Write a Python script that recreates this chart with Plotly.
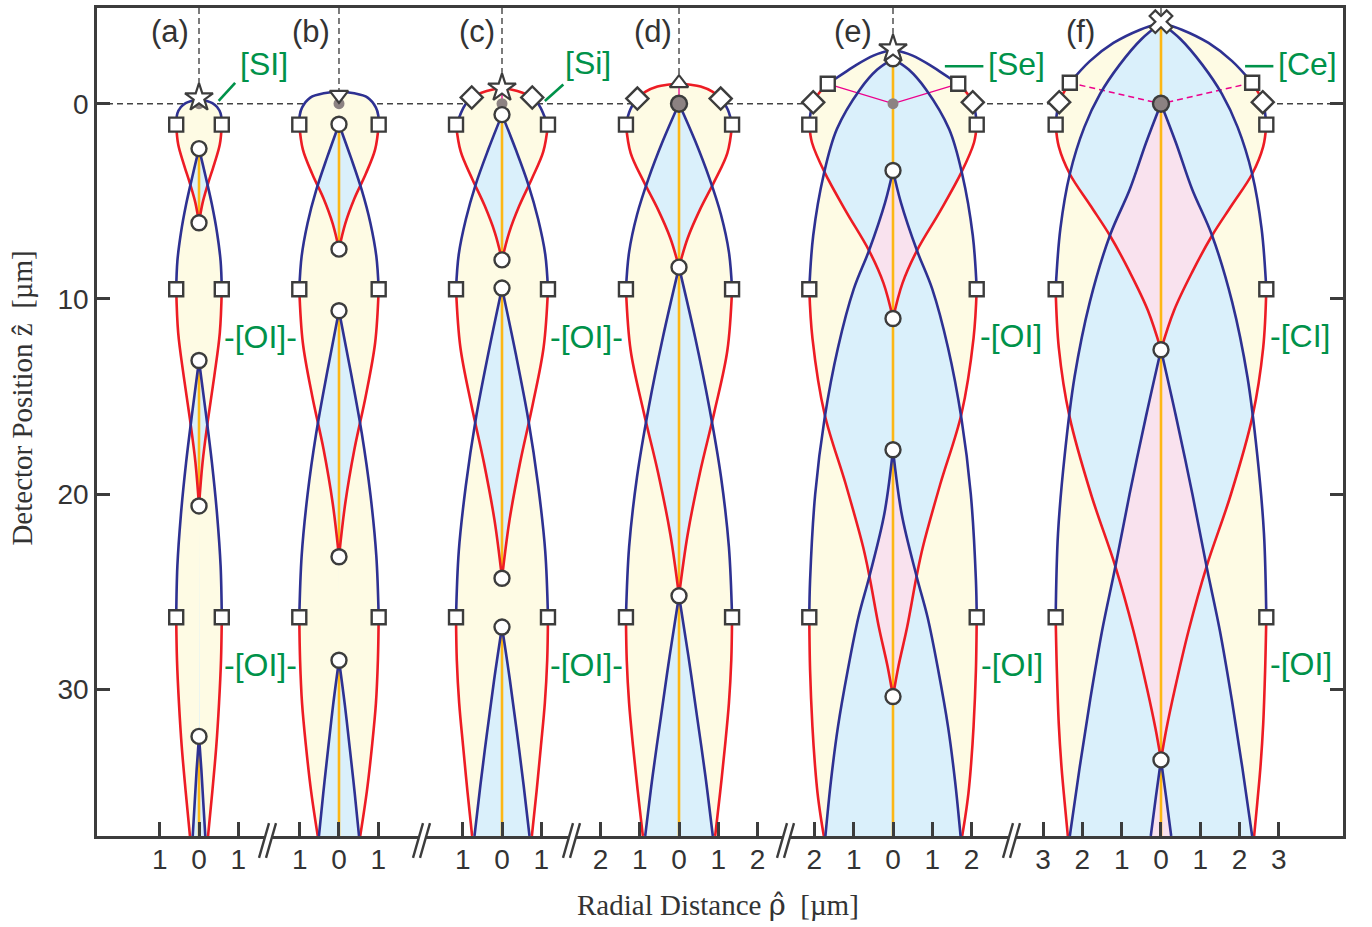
import numpy as np
import plotly.graph_objects as go

ZBOT, ZTOP = 37.5, -4.9
RED, BLUE, GOLD, MAG = "#ED1C24", "#2E3192", "#FDB714", "#EC008C"
YEL, LBLUE, PINK = "#FEFBE4", "#DAF0FB", "#F9E2EE"
DARK, GRAYDOT, GREEN, TXT = "#3C3C3C", "#8C8282", "#00924A", "#333333"

# ---------------- panel layout ----------------
panel_labels = ["(a)", "(b)", "(c)", "(d)", "(e)", "(f)"]
panel_offset = [0.0, 3.562, 7.710, 12.214, 17.659, 24.478]
panel_ticks = [[-1, 0, 1], [-1, 0, 1], [-1, 0, 1], [-2, -1, 0, 1, 2],
               [-2, -1, 0, 1, 2], [-3, -2, -1, 0, 1, 2, 3]]
y_ticks = [0, 10, 20, 30]

# ---------------- curves: detector position z, radial half-width w [um] ----------------
# panel (a)
a_cap_z = [-0.22, -0.14, -0.03, 0.17, 0.50, 1.07]
a_cap_w = [0.00, 0.20, 0.34, 0.46, 0.55, 0.58]
a_red1_z = [1.07, 2.08, 3.08, 4.09, 5.09, 6.10]
a_red1_w = [0.58, 0.53, 0.39, 0.23, 0.09, 0.00]
a_blue1_z = [2.30, 3.74, 5.18, 6.62, 8.06, 9.50]
a_blue1_w = [0.00, 0.17, 0.33, 0.46, 0.55, 0.58]
a_red2_z = [9.50, 11.72, 13.94, 16.16, 18.38, 20.60]
a_red2_w = [0.58, 0.53, 0.39, 0.23, 0.09, 0.00]
a_blue2_z = [13.15, 15.78, 18.41, 21.04, 23.67, 26.30]
a_blue2_w = [0.00, 0.17, 0.33, 0.46, 0.55, 0.58]
a_red3_z = [26.30, 28.50, 30.70, 32.90, 35.20, 37.50]
a_red3_w = [0.58, 0.56, 0.51, 0.44, 0.34, 0.23]
a_blue3_z = [32.40, 34.10, 35.80, 37.50]
a_blue3_w = [0.00, 0.06, 0.11, 0.16]
# panel (b)
b_cap_z = [-0.60, -0.53, -0.31, 0.20, 0.60, 1.07]
b_cap_w = [0.00, 0.39, 0.73, 0.94, 1.00, 1.01]
b_red1_z = [1.07, 2.34, 3.60, 4.87, 6.14, 7.45]
b_red1_w = [1.01, 0.92, 0.68, 0.39, 0.16, 0.00]
b_blue1_z = [1.05, 2.74, 4.43, 6.12, 7.81, 9.50]
b_blue1_w = [0.00, 0.30, 0.58, 0.80, 0.95, 1.01]
b_red2_z = [9.50, 12.24, 14.98, 17.72, 20.46, 23.20]
b_red2_w = [1.01, 0.92, 0.68, 0.39, 0.16, 0.00]
b_blue2_z = [10.60, 13.74, 16.88, 20.02, 23.16, 26.30]
b_blue2_w = [0.00, 0.30, 0.58, 0.80, 0.95, 1.01]
b_red3_z = [26.30, 28.50, 30.70, 32.90, 35.20, 37.50]
b_red3_w = [1.01, 0.99, 0.94, 0.84, 0.71, 0.54]
b_blue3_z = [28.50, 30.80, 33.10, 35.30, 37.50]
b_blue3_w = [0.00, 0.15, 0.28, 0.40, 0.51]
# panel (c)
c_capr_z = [-0.77, -0.74, -0.65, -0.50, -0.32]
c_capr_w = [0.00, 0.20, 0.39, 0.60, 0.77]
c_capb_z = [-0.32, -0.10, 0.20, 0.60, 1.07]
c_capb_w = [0.77, 0.88, 0.98, 1.07, 1.17]
c_red1_z = [1.07, 2.46, 3.84, 5.23, 6.61, 8.00]
c_red1_w = [1.17, 1.05, 0.76, 0.44, 0.18, 0.00]
c_blue1_z = [0.56, 2.35, 4.14, 5.92, 7.71, 9.50]
c_blue1_w = [0.00, 0.35, 0.67, 0.92, 1.10, 1.17]
c_red2_z = [9.50, 12.46, 15.42, 18.38, 21.34, 24.30]
c_red2_w = [1.17, 1.06, 0.78, 0.46, 0.19, 0.00]
c_blue2_z = [9.44, 12.81, 16.18, 19.55, 22.92, 26.30]
c_blue2_w = [0.00, 0.35, 0.67, 0.92, 1.10, 1.17]
c_red3_z = [26.30, 28.50, 30.70, 32.90, 35.20, 37.50]
c_red3_w = [1.17, 1.15, 1.09, 0.99, 0.88, 0.76]
c_blue3_z = [26.80, 29.50, 32.20, 34.90, 37.50]
c_blue3_w = [0.00, 0.20, 0.38, 0.55, 0.70]
# panel (d)
d_capr_z = [-1.02, -0.97, -0.88, -0.62, -0.26]
d_capr_w = [0.00, 0.30, 0.55, 0.85, 1.06]
d_capb_z = [-0.26, 0.00, 0.30, 0.65, 1.07]
d_capb_w = [1.06, 1.16, 1.24, 1.30, 1.35]
d_red1_z = [1.07, 2.53, 3.98, 5.44, 6.89, 8.37]
d_red1_w = [1.35, 1.23, 0.90, 0.53, 0.22, 0.00]
d_blue1_z = [0.00, 1.90, 3.80, 5.70, 7.60, 9.50]
d_blue1_w = [0.00, 0.41, 0.77, 1.07, 1.27, 1.35]
d_red2_z = [9.50, 12.64, 15.78, 18.92, 22.06, 25.20]
d_red2_w = [1.35, 1.23, 0.90, 0.53, 0.22, 0.00]
d_blue2_z = [8.37, 11.96, 15.54, 19.13, 22.71, 26.30]
d_blue2_w = [0.00, 0.41, 0.77, 1.07, 1.27, 1.35]
d_red3_z = [26.30, 28.50, 30.70, 32.90, 35.20, 37.50]
d_red3_w = [1.35, 1.33, 1.27, 1.17, 1.05, 0.92]
d_blue3_z = [25.20, 28.30, 31.40, 34.40, 37.50]
d_blue3_w = [0.00, 0.24, 0.46, 0.67, 0.86]
# panel (e)
e_capt_z = [-2.72, -2.62, -2.46, -2.00, -1.50, -1.02]
e_capt_w = [0.00, 0.28, 0.50, 0.92, 1.30, 1.66]
e_capr_z = [-1.02, -0.55, -0.07]
e_capr_w = [1.66, 1.88, 2.03]
e_capb_z = [-0.07, 0.50, 1.07]
e_capb_w = [2.03, 2.10, 2.13]
e_blue1_z = [-2.30, -1.75, -0.73, 1.31, 3.60, 6.75, 9.50]
e_blue1_w = [0.00, 0.40, 0.84, 1.43, 1.76, 2.03, 2.13]
e_red1_z = [1.07, 2.00, 3.52, 5.50, 7.52, 9.20, 11.00]
e_red1_w = [2.13, 2.06, 1.74, 1.20, 0.61, 0.24, 0.00]
e_blue2_z = [3.42, 5.05, 7.52, 9.50, 12.50, 16.10, 20.00, 24.40, 26.30]
e_blue2_w = [0.00, 0.20, 0.61, 1.00, 1.40, 1.74, 1.98, 2.11, 2.13]
e_red2_z = [9.50, 12.00, 15.90, 19.50, 22.70, 24.20, 26.80, 28.80, 30.36]
e_red2_w = [2.13, 2.05, 1.74, 1.20, 0.76, 0.60, 0.36, 0.14, 0.00]
e_blue3_z = [17.72, 21.00, 24.20, 26.30, 29.00, 31.90, 34.70, 37.50]
e_blue3_w = [0.00, 0.22, 0.60, 0.88, 1.15, 1.40, 1.58, 1.72]
e_red3_z = [26.30, 29.00, 31.90, 34.00, 35.30, 36.50, 37.50]
e_red3_w = [2.13, 2.11, 2.05, 1.98, 1.92, 1.84, 1.76]
# panel (f)
f_capt_z = [-4.13, -3.79, -3.11, -2.18, -1.07]
f_capt_w = [0.00, 0.53, 1.21, 1.81, 2.32]
f_capr_z = [-1.07, -0.55, -0.08]
f_capr_w = [2.32, 2.48, 2.59]
f_capb_z = [-0.08, 0.50, 1.07]
f_capb_w = [2.59, 2.65, 2.68]
f_blue1_z = [-4.13, -3.30, -2.00, -0.50, 1.20, 3.60, 6.40, 9.50]
f_blue1_w = [0.00, 0.50, 1.05, 1.55, 1.95, 2.32, 2.56, 2.68]
f_red1_z = [1.07, 2.20, 3.60, 5.20, 6.75, 8.60, 10.60, 12.60]
f_red1_w = [2.68, 2.60, 2.32, 1.80, 1.30, 0.80, 0.33, 0.00]
f_blue2_z = [0.00, 2.00, 4.37, 6.75, 10.15, 14.00, 18.00, 22.00, 26.30]
f_blue2_w = [0.00, 0.38, 0.79, 1.30, 1.81, 2.20, 2.45, 2.62, 2.68]
f_red2_z = [9.50, 12.50, 16.00, 20.00, 23.70, 27.00, 30.00, 32.00, 33.60]
f_red2_w = [2.68, 2.60, 2.33, 1.78, 1.16, 0.70, 0.35, 0.14, 0.00]
f_blue3_z = [12.60, 16.00, 20.00, 23.70, 27.00, 30.50, 34.00, 37.50]
f_blue3_w = [0.00, 0.38, 0.80, 1.16, 1.50, 1.80, 2.07, 2.32]
f_red3_z = [26.30, 29.00, 31.80, 34.00, 35.80, 37.50]
f_red3_w = [2.68, 2.65, 2.60, 2.53, 2.45, 2.37]
f_blue4_z = [33.60, 35.50, 37.50]
f_blue4_w = [0.00, 0.13, 0.26]

# ---------------- markers ----------------
square_w = [0.58, 1.01, 1.17, 1.35, 2.13, 2.68]
square_z = [1.07, 9.50, 26.30]
top_square_w = [None, None, None, None, 1.66, 2.32]
top_square_z = [None, None, None, None, -1.02, -1.07]
diamond_w = [None, None, 0.77, 1.06, 2.03, 2.59]
diamond_z = [None, None, -0.32, -0.26, -0.07, -0.08]
circle_z = [[2.30, 6.10, 13.15, 20.60, 32.40],
            [1.05, 7.45, 10.60, 23.20, 28.50],
            [0.56, 8.00, 9.44, 24.30, 26.80],
            [8.37, 25.20],
            [-2.30, 3.42, 11.00, 17.72, 30.36],
            [12.60, 33.60]]
focus_big = [False, False, False, True, False, True]
top_symbol = ["star", "triangle-down", "star", "triangle-up", "star", "x"]
top_z = [-0.30, -0.45, -0.80, -1.05, -2.80, -4.20]
gold_start = [[2.30, 13.15, 32.40], [1.05, 10.60, 28.50], [0.56, 9.44, 26.80],
              [0.00], [-2.30], [-4.13]]
gold_end = [[6.10, 20.60, 37.50], [7.45, 23.20, 37.50], [8.00, 24.30, 37.50],
            [37.50], [37.50], [37.50]]

# green element labels: text, panel, radial position, z
green_text = ["[SI]", "-[OI]-", "-[OI]-", "[Si]", "-[OI]-", "-[OI]-",
              "[Se]", "-[OI]", "-[OI]", "[Ce]", "-[CI]", "-[OI]"]
green_panel = [0, 0, 0, 2, 2, 2, 4, 4, 4, 5, 5, 5]
green_r = [1.65, 1.57, 1.57, 2.18, 2.16, 2.16, 3.15, 2.99, 3.02, 3.73, 3.54, 3.57]
green_z = [-2.05, 11.95, 28.75, -2.08, 11.95, 28.75, -2.05, 11.92, 28.75, -2.05, 11.92, 28.7]

# ---------------- assemble panels ----------------
panels = [
    dict(cap=[("blue", a_cap_z, a_cap_w, "arc")],
         red=[(a_red1_z, a_red1_w), (a_red2_z, a_red2_w), (a_red3_z, a_red3_w)],
         blue=[(a_blue1_z, a_blue1_w), (a_blue2_z, a_blue2_w), (a_blue3_z, a_blue3_w)]),
    dict(cap=[("blue", b_cap_z, b_cap_w, "arc")],
         red=[(b_red1_z, b_red1_w), (b_red2_z, b_red2_w), (b_red3_z, b_red3_w)],
         blue=[(b_blue1_z, b_blue1_w), (b_blue2_z, b_blue2_w), (b_blue3_z, b_blue3_w)]),
    dict(cap=[("red", c_capr_z, c_capr_w, "arc"), ("blue", c_capb_z, c_capb_w, "side")],
         red=[(c_red1_z, c_red1_w), (c_red2_z, c_red2_w), (c_red3_z, c_red3_w)],
         blue=[(c_blue1_z, c_blue1_w), (c_blue2_z, c_blue2_w), (c_blue3_z, c_blue3_w)]),
    dict(cap=[("red", d_capr_z, d_capr_w, "arc"), ("blue", d_capb_z, d_capb_w, "side")],
         red=[(d_red1_z, d_red1_w), (d_red2_z, d_red2_w), (d_red3_z, d_red3_w)],
         blue=[(d_blue1_z, d_blue1_w), (d_blue2_z, d_blue2_w), (d_blue3_z, d_blue3_w)]),
    dict(cap=[("blue", e_capt_z, e_capt_w, "arc"), ("red", e_capr_z, e_capr_w, "side"),
              ("blue", e_capb_z, e_capb_w, "side")],
         red=[(e_red1_z, e_red1_w), (e_red2_z, e_red2_w), (e_red3_z, e_red3_w)],
         blue=[(e_blue1_z, e_blue1_w), (e_blue2_z, e_blue2_w), (e_blue3_z, e_blue3_w)]),
    dict(cap=[("blue", f_capt_z, f_capt_w, "side"), ("red", f_capr_z, f_capr_w, "side"),
              ("blue", f_capb_z, f_capb_w, "side")],
         red=[(f_red1_z, f_red1_w), (f_red2_z, f_red2_w), (f_red3_z, f_red3_w)],
         blue=[(f_blue1_z, f_blue1_w), (f_blue2_z, f_blue2_w), (f_blue3_z, f_blue3_w),
               (f_blue4_z, f_blue4_w)]),
]


def beam_width(zq, bz, bw):
    v = np.interp(zq, bz, bw)
    inside = (zq >= bz[0] - 1e-9) & ((zq < bz[-1] - 1e-9) | (bz[-1] >= ZBOT - 1e-6))
    return np.where(inside, v, 0.0)


def coverage_profiles(beams):
    zset = set()
    for bz, bw in beams:
        zset.update(float(v) for v in bz)
    for i in range(len(beams)):
        for j in range(i + 1, len(beams)):
            zi, wi = beams[i]
            zj, wj = beams[j]
            lo, hi = max(zi[0], zj[0]), min(zi[-1], zj[-1])
            if hi <= lo:
                continue
            g = np.array(sorted({v for v in list(zi) + list(zj) if lo <= v <= hi} | {lo, hi}))
            d = np.interp(g, zi, wi) - np.interp(g, zj, wj)
            for k in range(len(g) - 1):
                if d[k] * d[k + 1] < 0:
                    zset.add(float(g[k] + (g[k + 1] - g[k]) * d[k] / (d[k] - d[k + 1])))
    zs = np.array(sorted(zset))
    W = np.array([beam_width(zs, np.asarray(bz), np.asarray(bw)) for bz, bw in beams])
    return zs, -np.sort(-W, axis=0)


fig = go.Figure()

# ---- filled regions: yellow = inside one beam, light blue = two, pink = three ----
for p, off in zip(panels, panel_offset):
    cz, cw = [], []
    for _, z, w, _m in p["cap"]:
        if cz and abs(cz[-1] - z[0]) < 1e-9:
            cz += list(z[1:]); cw += list(w[1:])
        else:
            cz += list(z); cw += list(w)
    beams = [(cz, cw)] + p["red"] + p["blue"]
    zs, Ws = coverage_profiles(beams)
    for k, col in [(0, YEL), (1, LBLUE), (2, PINK)]:
        if k >= len(Ws) or Ws[k].max() <= 1e-6:
            continue
        prof = Ws[k]
        xs = np.concatenate([off + prof, (off - prof)[::-1]])
        ys = np.concatenate([zs, zs[::-1]])
        fig.add_trace(go.Scatter(x=xs, y=ys, mode="lines", fill="toself", fillcolor=col,
                                 line=dict(width=0), hoverinfo="skip"))


def add_segments(segs, color, width, shape="spline", dash=None):
    xs, ys = [], []
    for sx, sy in segs:
        xs += list(sx) + [None]
        ys += list(sy) + [None]
    fig.add_trace(go.Scatter(x=xs, y=ys, mode="lines", hoverinfo="skip",
                             line=dict(color=color, width=width, shape=shape, dash=dash)))


# ---- gold axis lines ----
for off, g0, g1 in zip(panel_offset, gold_start, gold_end):
    add_segments([([off, off], [a, b]) for a, b in zip(g0, g1)], GOLD, 2.6, shape="linear")

# ---- magenta focus lines ----
mag_solid, mag_dash = [], []
for i, off in enumerate(panel_offset):
    if top_square_w[i] is not None:
        seg = ([off - top_square_w[i], off, off + top_square_w[i]],
               [top_square_z[i], 0.0, top_square_z[i]])
        (mag_dash if i == 5 else mag_solid).append(seg)
    elif i in (1, 2, 3):
        mag_solid.append(([off, off], [top_z[i], 0.0]))
add_segments(mag_solid, MAG, 1.3, shape="linear")
add_segments(mag_dash, MAG, 1.5, shape="linear", dash="6px,4px")

# ---- red and blue beam boundaries ----
for color, key in [(RED, "red"), (BLUE, "blue")]:
    segs = []
    for p, off in zip(panels, panel_offset):
        for bz, bw in p[key]:
            segs.append(([off + v for v in bw], bz))
            segs.append(([off - v for v in bw], bz))
        for ccol, z, w, mode in p["cap"]:
            if (ccol == "red") != (key == "red"):
                continue
            if mode == "arc":
                segs.append(([off - v for v in w[::-1]] + [off + v for v in w[1:]],
                             list(z[::-1]) + list(z[1:])))
            else:
                segs.append(([off + v for v in w], z))
                segs.append(([off - v for v in w], z))
    add_segments(segs, color, 2.6)

# ---- markers ----
mk_line = dict(color=DARK, width=2.4)
sx, sy = [], []
for i, off in enumerate(panel_offset):
    for z in square_z:
        sx += [off - square_w[i], off + square_w[i]]; sy += [z, z]
    if top_square_w[i] is not None:
        sx += [off - top_square_w[i], off + top_square_w[i]]; sy += [top_square_z[i]] * 2
fig.add_trace(go.Scatter(x=sx, y=sy, mode="markers", hoverinfo="skip",
                         marker=dict(symbol="square", size=14, color="white", line=mk_line)))
dx, dy = [], []
for i, off in enumerate(panel_offset):
    if diamond_w[i] is not None:
        dx += [off - diamond_w[i], off + diamond_w[i]]; dy += [diamond_z[i]] * 2
fig.add_trace(go.Scatter(x=dx, y=dy, mode="markers", hoverinfo="skip",
                         marker=dict(symbol="diamond", size=17, color="white", line=mk_line)))
small = [off for off, big in zip(panel_offset, focus_big) if not big]
bigf = [off for off, big in zip(panel_offset, focus_big) if big]
fig.add_trace(go.Scatter(x=small, y=[0.0] * len(small), mode="markers", hoverinfo="skip",
                         marker=dict(symbol="circle", size=11, color=GRAYDOT, line=dict(width=0))))
fig.add_trace(go.Scatter(x=bigf, y=[0.0] * len(bigf), mode="markers", hoverinfo="skip",
                         marker=dict(symbol="circle", size=16, color=GRAYDOT, line=mk_line)))
cx, cy = [], []
for off, zl in zip(panel_offset, circle_z):
    cx += [off] * len(zl); cy += zl
fig.add_trace(go.Scatter(x=cx, y=cy, mode="markers", hoverinfo="skip",
                         marker=dict(symbol="circle", size=15, color="white", line=mk_line)))
for off, sym, z in zip(panel_offset, top_symbol, top_z):
    size = {"star": 21, "x": 20}.get(sym, 16)
    fig.add_trace(go.Scatter(x=[off], y=[z], mode="markers", hoverinfo="skip",
                             marker=dict(symbol=sym, size=size, color="white",
                                         line=dict(color=DARK, width=2.2))))

# ---------------- shapes ----------------
shapes = []
dashed = dict(color="#444444", width=1.4, dash="6px,4px")
shapes.append(dict(type="line", xref="paper", yref="y", x0=0, x1=1, y0=0, y1=0,
                   line=dashed, layer="below"))
for off, z in zip(panel_offset, top_z):
    shapes.append(dict(type="line", xref="x", yref="y", x0=off, x1=off, y0=ZTOP, y1=z,
                       line=dashed, layer="below"))
# green leader lines (panel, r0, z0, r1, z1)
leaders = [(0, 0.50, -0.14, 0.92, -1.07), (2, 1.09, -0.14, 1.56, -0.98),
           (4, 1.32, -1.92, 2.30, -1.92), (5, 2.14, -1.92, 2.86, -1.92)]
for pi, r0, z0, r1, z1 in leaders:
    off = panel_offset[pi]
    shapes.append(dict(type="line", xref="x", yref="y", x0=off + r0, y0=z0, x1=off + r1, y1=z1,
                       line=dict(color=GREEN, width=2.6), layer="above"))


def pxx(px):
    return (px - 97) / 1246


def pyy(py):
    return (836 - py) / 831


for xb in [268, 422, 572, 786, 1012]:
    quad = [(xb - 9, 858), (xb + 1, 823), (xb + 8, 823), (xb - 2, 858)]
    path = "M " + " L ".join(f"{pxx(a):.5f},{pyy(b):.5f}" for a, b in quad) + " Z"
    shapes.append(dict(type="path", path=path, xref="paper", yref="paper",
                       fillcolor="white", line=dict(width=0), layer="above"))
    for d in (0, 7):
        shapes.append(dict(type="line", xref="paper", yref="paper",
                           x0=pxx(xb - 9 + d), y0=pyy(858), x1=pxx(xb + 1 + d), y1=pyy(823),
                           line=dict(color=DARK, width=2.4), layer="above"))

# ---------------- annotations ----------------
ann = []
plab_r = [-0.73, -0.72, -0.64, -0.67, -1.03, -2.06]
for off, lab, r in zip(panel_offset, panel_labels, plab_r):
    ann.append(dict(x=off + r, y=-3.72, xref="x", yref="y", text=lab, showarrow=False,
                    font=dict(family="Liberation Sans, Arial, sans-serif", size=31, color=TXT)))
for t, pi, r, z in zip(green_text, green_panel, green_r, green_z):
    ann.append(dict(x=panel_offset[pi] + r, y=z, xref="x", yref="y", text=t, showarrow=False,
                    font=dict(family="Liberation Sans, Arial, sans-serif", size=32, color=GREEN)))
serif = dict(family="Liberation Serif, Times New Roman, serif", size=29, color=TXT)
ann.append(dict(x=pxx(718), y=pyy(905), xref="paper", yref="paper", showarrow=False,
                xanchor="center", yanchor="middle",
                text="Radial Distance <span style=\"font-family:'DejaVu Serif'\">\u03c1\u0302</span>  [\u00b5m]",
                font=serif))
ann.append(dict(x=pxx(22), y=pyy(397), xref="paper", yref="paper", showarrow=False,
                xanchor="center", yanchor="middle", textangle=-90,
                text="Detector Position \u1e91  [\u00b5m]", font=serif))

tickvals, ticktext = [], []
for off, tl in zip(panel_offset, panel_ticks):
    for v in tl:
        tickvals.append(off + v)
        ticktext.append(str(abs(v)))

axis_common = dict(showgrid=False, zeroline=False, showline=True, linecolor=DARK, linewidth=2.5,
                   ticks="inside", tickwidth=2.5, tickcolor=DARK, fixedrange=True,
                   tickfont=dict(family="Liberation Sans, Arial, sans-serif", size=28, color=TXT))

fig.update_layout(
    width=1372, height=927, margin=dict(l=97, r=29, t=5, b=91),
    plot_bgcolor="white", paper_bgcolor="white", showlegend=False,
    xaxis=dict(range=[-2.5954, 29.1094], tickvals=tickvals, ticktext=ticktext, ticklen=14,
               mirror=True, ticklabelstandoff=-3, **axis_common),
    yaxis=dict(range=[ZBOT, ZTOP], tickvals=y_ticks, ticklen=13, mirror="ticks",
               ticklabelstandoff=0, **axis_common),
    shapes=shapes, annotations=ann,
)

fig.write_html("out.html", config={"displayModeBar": False},
               post_script="document.body.style.margin='0px';")
